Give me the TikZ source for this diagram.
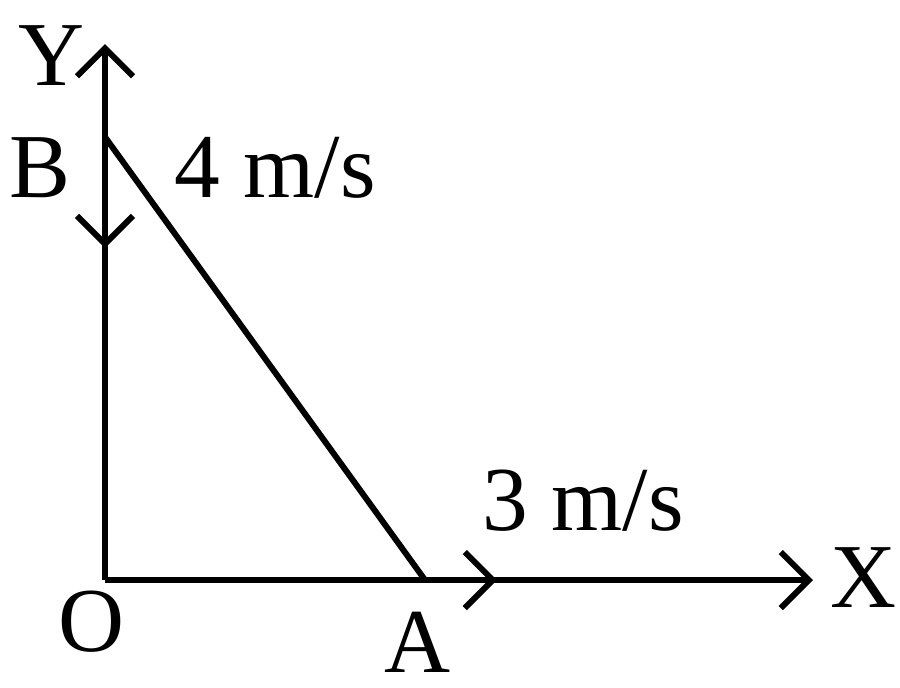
\documentclass[tikz,border=0pt]{standalone}
\usepackage{fontspec}
\setmainfont{Liberation Serif}
\usetikzlibrary{arrows.meta,positioning}
\begin{document}
\begin{tikzpicture}[x=0.01cm, y=-0.01cm, line width=1.7pt,
    >={Straight Barb[length=0.28cm,width=0.56cm]},
    label node/.style={font=\fontsize{26}{30}\selectfont, inner sep=0pt}]
            \useasboundingbox (0,0) rectangle (900,687);

              \coordinate (O) at (105,580);
              \coordinate (X) at (813,580);
              \coordinate (Y) at (105,44);
              \coordinate (B) at (105,137);
              \coordinate (A) at (425,580);
              \coordinate (vB) at (105,248);
              \coordinate (vA) at (497,580);

              \draw[->] (O) -- (X);
              \draw[->] (O) -- (Y);
              \draw[->] (B) -- (vB);
              \draw[->] (A) -- (vA);
              \draw (B) -- (A);

              \node[label node, anchor=base] (ylab) at (52,85) {Y};
              \node[label node, anchor=base] (blab) at (40,197) {B};
              \node[label node, anchor=base west] (vblab) at (172,197) {4 m/s};
              \node[label node, anchor=base west] (valab) at (480,530) {3 m/s};
              \node[label node, anchor=base west] (xlab) at (827,607) {X};
              \node[label node, anchor=base] (olab) at (92,651) {O};
              \node[label node, anchor=base] (alab) at (418,672) {A};
            \end{tikzpicture}
\end{document}
